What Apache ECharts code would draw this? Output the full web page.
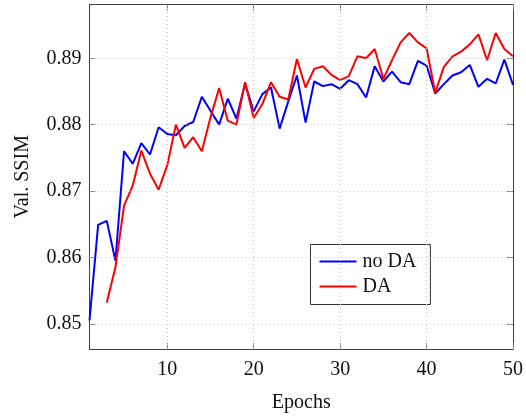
<!DOCTYPE html>
<html>
<head>
<meta charset="utf-8">
<script src="https://cdn.jsdelivr.net/npm/echarts@6/dist/echarts.min.js"></script>
<style>
html,body{margin:0;padding:0;background:#fff;}
#chart{width:526px;height:418px;}
</style>
</head>
<body>
<div id="chart"></div>
<script>
const epochs = [1,2,3,4,5,6,7,8,9,10,11,12,13,14,15,16,17,18,19,20,21,22,23,24,25,26,27,28,29,30,31,32,33,34,35,36,37,38,39,40,41,42,43,44,45,46,47,48,49,50];
const noDA = [0.8505,0.8649,0.8655,0.8595,0.8760,0.8741,0.8772,0.8755,0.8796,0.8786,
              0.8784,0.8798,0.8804,0.8842,0.8821,0.8800,0.8839,0.8809,0.8862,0.8820,
              0.8846,0.8856,0.8794,0.8835,0.8874,0.8803,0.8865,0.8858,0.8861,0.8854,
              0.8867,0.8861,0.8841,0.8888,0.8865,0.8880,0.8864,0.8861,0.8896,0.8889,
              0.8847,0.8861,0.8874,0.8879,0.8890,0.8857,0.8869,0.8862,0.8898,0.8860];
const DA   = [null,null,0.8532,0.8585,0.8678,0.8708,0.8761,0.8726,0.8702,0.8739,
              0.8800,0.8765,0.8781,0.8760,0.8811,0.8855,0.8806,0.8800,0.8864,0.8810,
              0.8831,0.8864,0.8842,0.8838,0.8899,0.8856,0.8884,0.8888,0.8875,0.8867,
              0.8873,0.8903,0.8900,0.8914,0.8869,0.8897,0.8924,0.8938,0.8924,0.8915,
              0.8848,0.8887,0.8903,0.8910,0.8921,0.8936,0.8897,0.8938,0.8914,0.8903];
const xTicks = [10,20,30,40,50];
const yTicks = [0.85,0.86,0.87,0.88,0.89];
const seriesNames = ['no DA','DA'];

const FONT = 'Liberation Serif';
const X_MIN = 1, X_MAX = 50, Y_MIN = 0.8462, Y_MAX = 0.8981;

const chart = echarts.init(document.getElementById('chart'), null, {renderer:'canvas'});

function axisBase(extra){
  return Object.assign({
    type:'value',
    axisLine:{show:true, lineStyle:{color:'#404040', width:1}},
    axisTick:{show:true, inside:true, length:6, lineStyle:{color:'#808080', width:1}},
    splitLine:{show:false},
    axisLabel:{show:false}
  }, extra);
}

const gridLines = [];
xTicks.slice(0, -1).forEach(v => gridLines.push({xAxis:v}));
yTicks.forEach(v => gridLines.push({yAxis:v}));

const option = {
  animation:false,
  backgroundColor:'#fff',
  grid:{left:89.5, right:10.5, top:4.5, bottom:60.5, containLabel:false},
  xAxis:[
    axisBase({min:X_MIN, max:X_MAX, position:'bottom',
      name:'Epochs', nameLocation:'middle', nameGap:44,
      nameTextStyle:{fontFamily:FONT, fontSize:20, color:'#111'},
      axisTick:{show:true, inside:true, length:6, customValues:xTicks, lineStyle:{color:'#808080'}},
      axisLabel:{show:true, customValues:xTicks, margin:11, fontFamily:FONT, fontSize:20, color:'#111'}
    }),
    axisBase({min:X_MIN, max:X_MAX, position:'top',
      axisTick:{show:true, inside:true, length:6, customValues:xTicks, lineStyle:{color:'#808080'}}
    })
  ],
  yAxis:[
    axisBase({min:Y_MIN, max:Y_MAX, position:'left',
      name:'Val. SSIM', nameLocation:'middle', nameGap:57, nameRotate:90,
      nameTextStyle:{fontFamily:FONT, fontSize:20, color:'#111'},
      axisTick:{show:true, inside:true, length:6, customValues:yTicks, lineStyle:{color:'#808080'}},
      axisLabel:{show:true, customValues:yTicks, margin:8, fontFamily:FONT, fontSize:20, color:'#111',
        formatter:v => Number(v).toFixed(2)}
    }),
    axisBase({min:Y_MIN, max:Y_MAX, position:'right',
      axisTick:{show:true, inside:true, length:6, customValues:yTicks, lineStyle:{color:'#808080'}}
    })
  ],
  legend:{
    show:true,
    orient:'vertical',
    left:310.5, top:244.5,
    backgroundColor:'#fff',
    borderColor:'#333', borderWidth:1,
    padding:[7,14,8,8],
    itemWidth:37, itemHeight:14, itemGap:5,
    itemStyle:{opacity:0},
    textStyle:{fontFamily:FONT, fontSize:20, lineHeight:20, color:'#111', padding:[0,0,0,1]},
    data:seriesNames
  },
  series:[
    {
      name:'grid', type:'line', data:[], silent:true,
      markLine:{silent:true, symbol:['none','none'], label:{show:false},
        lineStyle:{color:'#c8c8c8', width:1, type:[1,3]},
        data:gridLines, animation:false},
      z:0
    },
    {
      name:seriesNames[0], type:'line', symbol:'none', showSymbol:false,
      data:epochs.map((e,i)=>[e,noDA[i]]),
      lineStyle:{color:'#0000ff', width:2}, itemStyle:{color:'#0000ff'}, z:2
    },
    {
      name:seriesNames[1], type:'line', symbol:'none', showSymbol:false,
      data:epochs.map((e,i)=>[e,DA[i]]).filter(p=>p[1]!==null),
      lineStyle:{color:'#ff0000', width:2}, itemStyle:{color:'#ff0000'}, z:3
    }
  ]
};
chart.setOption(option);
</script>
</body>
</html>
